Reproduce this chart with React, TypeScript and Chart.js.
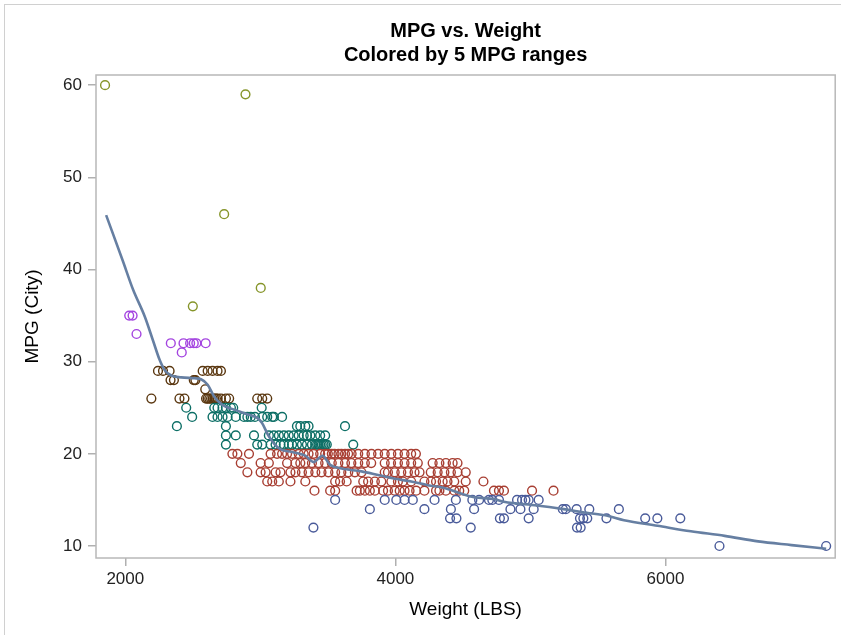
import React, { useEffect, useRef } from 'react';
import { Chart, registerables } from 'chart.js';

Chart.register(...registerables);

// Titles and tick values
const titleLines = ['MPG vs. Weight', 'Colored by 5 MPG ranges'];
const xTicks = [2000, 4000, 6000];
const yTicks = [10, 20, 30, 40, 50, 60];

// [Weight (LBS), MPG (City)] per MPG range
const mpgAbove35: [number, number][] = [
  [1850, 60], [2890, 59], [2732, 46], [3003, 38], [2500, 36],
];

const mpg31to35: [number, number][] = [
  [2029, 35], [2054, 35], [2083, 33],
  [2337, 32], [2431, 32], [2480, 32], [2507, 32], [2526, 32], [2595, 32],
  [2418, 31],
];

const mpg26to30: [number, number][] = [
  [2242, 29], [2279, 29], [2328, 29], [2573, 29], [2610, 29], [2646, 29], [2683, 29], [2708, 29],
  [2335, 28], [2360, 28], [2507, 28], [2519, 28],
  [2592, 27],
  [2193, 26], [2401, 26], [2438, 26], [2598, 26], [2610, 26], [2622, 26], [2635, 26], [2647, 26],
  [2659, 26], [2671, 26], [2683, 26], [2708, 26], [2745, 26], [2769, 26], [2977, 26], [3014, 26], [3051, 26],
];

const mpg21to25: [number, number][] = [
  [2451, 25], [2659, 25], [2683, 25], [2720, 25], [2745, 25], [2782, 25], [2799, 25], [3010, 25],
  [2495, 24], [2646, 24], [2683, 24], [2720, 24], [2757, 24], [2818, 24], [2879, 24], [2904, 24],
  [2929, 24], [2960, 24], [3014, 24], [3051, 24], [3088, 24], [3100, 24], [3161, 24],
  [2382, 23], [2745, 23], [3271, 23], [3296, 23], [3333, 23], [3357, 23], [3627, 23],
  [2745, 22], [2818, 22], [2953, 22], [3063, 22], [3100, 22], [3137, 22], [3174, 22], [3210, 22],
  [3247, 22], [3284, 22], [3321, 22], [3345, 22], [3370, 22], [3407, 22], [3443, 22], [3480, 22],
  [2745, 21], [2977, 21], [3014, 21], [3076, 21], [3113, 21], [3149, 21], [3174, 21], [3210, 21],
  [3235, 21], [3271, 21], [3308, 21], [3345, 21], [3382, 21], [3407, 21], [3420, 21], [3431, 21],
  [3443, 21], [3455, 21], [3468, 21], [3480, 21], [3492, 21], [3688, 21],
];

const mpg16to20: [number, number][] = [
  [2793, 20], [2830, 20], [2916, 20], [3076, 20], [3124, 20], [3161, 20], [3198, 20], [3235, 20],
  [3284, 20], [3321, 20], [3357, 20], [3394, 20], [3443, 20], [3480, 20], [3500, 20], [3529, 20],
  [3550, 20], [3578, 20], [3600, 20], [3627, 20], [3650, 20], [3676, 20], [3725, 20], [3774, 20],
  [3823, 20], [3872, 20], [3921, 20], [3970, 20], [4019, 20], [4068, 20], [4117, 20], [4152, 20],
  [2855, 19], [3002, 19], [3063, 19], [3198, 19], [3260, 19], [3296, 19], [3333, 19], [3382, 19],
  [3431, 19], [3480, 19], [3529, 19], [3578, 19], [3627, 19], [3674, 19], [3725, 19], [3774, 19],
  [3821, 19], [3921, 19], [3968, 19], [4019, 19], [4068, 19], [4117, 19], [4166, 19], [4276, 19],
  [4326, 19], [4374, 19], [4424, 19], [4460, 19],
  [2904, 18], [3002, 18], [3039, 18], [3113, 18], [3149, 18], [3223, 18], [3260, 18], [3308, 18],
  [3357, 18], [3407, 18], [3453, 18], [3504, 18], [3554, 18], [3600, 18], [3651, 18], [3700, 18],
  [3749, 18], [3921, 18], [3945, 18], [3995, 18], [4044, 18], [4093, 18], [4142, 18], [4179, 18],
  [4262, 18], [4313, 18], [4363, 18], [4411, 18], [4460, 18], [4521, 18],
  [3051, 17], [3088, 17], [3137, 17], [3223, 17], [3333, 17], [3554, 17], [3590, 17], [3639, 17],
  [3762, 17], [3798, 17], [3848, 17], [3896, 17], [3970, 17], [4019, 17], [4056, 17], [4117, 17],
  [4215, 17], [4264, 17], [4301, 17], [4350, 17], [4386, 17], [4436, 17], [4521, 17], [4652, 17],
  [3401, 16], [3517, 16], [3554, 16], [3713, 16], [3737, 16], [3774, 16], [3811, 16], [3848, 16],
  [3909, 16], [3945, 16], [3995, 16], [4032, 16], [4068, 16], [4105, 16], [4154, 16], [4215, 16],
  [4301, 16], [4326, 16], [4374, 16], [4436, 16], [4473, 16], [4510, 16], [4730, 16], [4767, 16],
  [4804, 16], [5012, 16], [5171, 16],
];

const mpg15andBelow: [number, number][] = [
  [3554, 15], [3921, 15], [4007, 15], [4068, 15], [4129, 15], [4290, 15], [4448, 15], [4570, 15],
  [4620, 15], [4693, 15], [4718, 15], [4767, 15], [4901, 15], [4938, 15], [4963, 15], [4987, 15], [5061, 15],
  [3811, 14], [4215, 14], [4411, 14], [4583, 14], [4852, 14], [4926, 14], [5024, 14], [5240, 14],
  [5262, 14], [5342, 14], [5436, 14], [5655, 14],
  [4405, 13], [4452, 13], [4774, 13], [4804, 13], [4987, 13], [5367, 13], [5392, 13], [5421, 13],
  [5563, 13], [5850, 13], [5940, 13], [6110, 13],
  [3393, 12], [4558, 12], [5345, 12], [5372, 12],
  [6400, 10], [7190, 10],
];

// Loess fit
const loessFit: [number, number][] = [
  [1858, 45.9], [1980, 41.0], [2058, 37.8], [2144, 34.9], [2205, 32.3], [2254, 30.2], [2291, 29.1],
  [2340, 28.5], [2414, 28.3], [2512, 28.2], [2561, 28.1], [2610, 27.5], [2659, 26.2], [2720, 25.3],
  [2806, 24.8], [2904, 24.3], [2977, 23.9], [3010, 23.4], [3063, 21.9], [3137, 20.6], [3235, 20.2],
  [3333, 19.8], [3394, 19.1], [3460, 19.8], [3517, 18.8], [3602, 18.4], [3749, 18.1], [3872, 17.7],
  [3995, 17.3], [4117, 17.0], [4240, 16.6], [4363, 16.3], [4484, 15.7], [4583, 15.3], [4730, 15.1],
  [4804, 14.8], [5049, 14.4], [5245, 14.0], [5416, 13.6], [5563, 13.3], [5693, 12.8], [5941, 12.2],
  [6188, 11.6], [6438, 11.1], [6686, 10.5], [6934, 10.1], [7190, 9.7],
];

const toXY = (arr: [number, number][]) => arr.map(([x, y]) => ({ x, y }));

const FONT = '"Liberation Sans", Arial, sans-serif';

const framePlugin = {
  id: 'frame',
  afterDatasetsDraw(chart: any) {
    const { ctx, chartArea } = chart;
    ctx.save();
    ctx.strokeStyle = '#b8b8b8';
    ctx.lineWidth = 1.5;
    ctx.strokeRect(chartArea.left, chartArea.top, chartArea.right - chartArea.left, chartArea.bottom - chartArea.top);
    ctx.restore();
  },
};

const titlePlugin = {
  id: 'plotTitle',
  afterDraw(chart: any) {
    const { ctx, chartArea } = chart;
    const cx = (chartArea.left + chartArea.right) / 2;
    ctx.save();
    ctx.fillStyle = '#000';
    ctx.font = `bold 20px ${FONT}`;
    ctx.textAlign = 'center';
    ctx.textBaseline = 'middle';
    titleLines.forEach((line, i) => ctx.fillText(line, cx, 31 + i * 24));
    ctx.restore();
  },
};

const markerDataset = (label: string, data: [number, number][], color: string) => ({
  type: 'scatter' as const,
  label,
  data: toXY(data),
  borderColor: color,
  backgroundColor: 'rgba(0,0,0,0)',
  pointRadius: 4.4,
  pointBorderWidth: 1.4,
  pointHoverRadius: 4.4,
  showLine: false,
});

export default function App() {
  const canvasRef = useRef<HTMLCanvasElement>(null);

  useEffect(() => {
    document.body.style.margin = '0';
    const canvas = canvasRef.current;
    if (!canvas) return;
    const chart = new Chart(canvas, {
      type: 'scatter',
      data: {
        datasets: [
          {
            type: 'line',
            label: 'Loess',
            data: toXY(loessFit),
            borderColor: '#667fa2',
            borderWidth: 2.6,
            pointRadius: 0,
            fill: false,
            cubicInterpolationMode: 'monotone',
          } as any,
          markerDataset('MPG 10-15', mpg15andBelow, '#4a5b9a'),
          markerDataset('MPG 16-20', mpg16to20, '#a83f33'),
          markerDataset('MPG 21-25', mpg21to25, '#0d6f66'),
          markerDataset('MPG 26-30', mpg26to30, '#5a3710'),
          markerDataset('MPG 31-35', mpg31to35, '#a445e0'),
          markerDataset('MPG >35', mpgAbove35, '#86952a'),
        ],
      },
      options: {
        animation: false,
        responsive: false,
        events: [],
        layout: { padding: { left: 0, right: 5, top: 75, bottom: 0 } },
        plugins: {
          legend: { display: false },
          tooltip: { enabled: false },
          title: { display: false },
        },
        scales: {
          x: {
            type: 'linear',
            min: 1783,
            max: 7257,
            afterFit: (axis: any) => { axis.height = 77; },
            afterBuildTicks: (axis: any) => { axis.ticks = xTicks.map((v) => ({ value: v })); },
            grid: { drawOnChartArea: false, drawTicks: true, tickLength: 8, color: '#b0b0b0', lineWidth: 1.5 },
            border: { display: false },
            ticks: { color: '#222', font: { family: FONT, size: 17 }, padding: 3, maxRotation: 0, callback: (v: any) => String(v) },
            title: { display: true, text: 'Weight (LBS)', color: '#000', font: { family: FONT, size: 19 }, padding: { top: 0, bottom: 13.6 } },
          },
          y: {
            type: 'linear',
            min: 8.7,
            max: 61.1,
            afterFit: (axis: any) => { axis.width = 96; },
            afterBuildTicks: (axis: any) => { axis.ticks = yTicks.map((v) => ({ value: v })); },
            grid: { drawOnChartArea: false, drawTicks: true, tickLength: 8, color: '#b0b0b0', lineWidth: 1.5 },
            border: { display: false },
            ticks: { color: '#222', font: { family: FONT, size: 17 }, padding: 6, callback: (v: any) => String(v) },
            title: { display: true, text: 'MPG (City)', color: '#000', font: { family: FONT, size: 19 }, padding: { top: 21.6, bottom: 0 } },
          },
        },
      },
      plugins: [framePlugin, titlePlugin],
    });
    return () => chart.destroy();
  }, []);

  return (
    <div style={{ position: 'relative', width: 841, height: 635, overflow: 'hidden', background: '#fff' }}>
      <div style={{ position: 'absolute', left: 4, top: 4, width: 850, height: 650, border: '1px solid #d0d0d0', boxSizing: 'border-box' }} />
      <canvas ref={canvasRef} width={841} height={635} style={{ position: 'absolute', left: 0, top: 0 }} />
    </div>
  );
}
